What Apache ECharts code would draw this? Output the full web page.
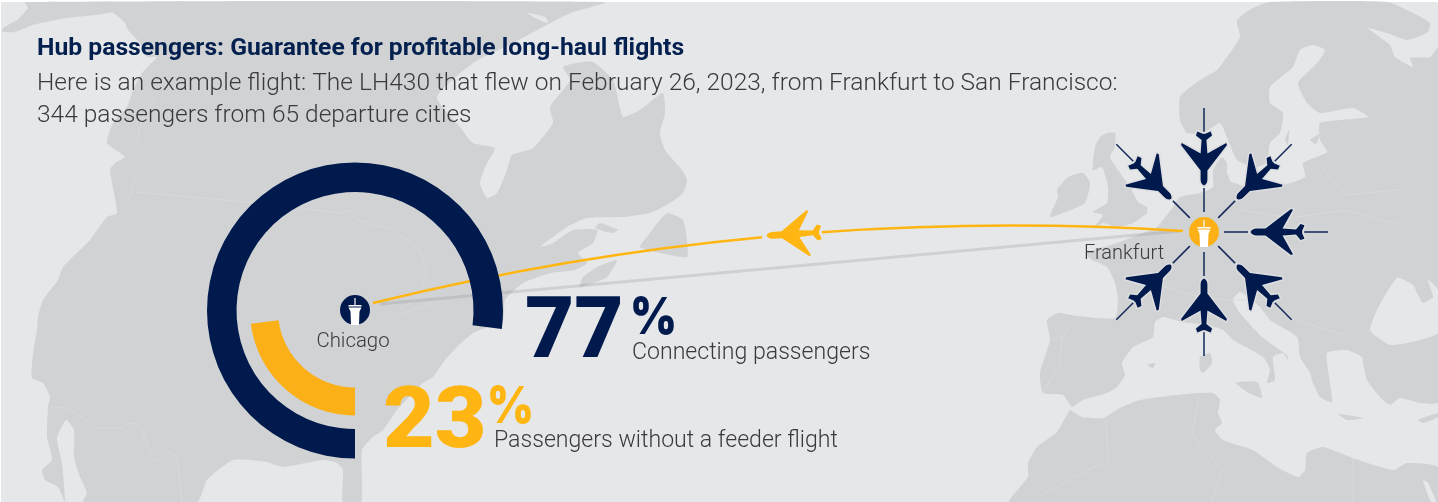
<!DOCTYPE html>
<html>
<head>
<meta charset="utf-8">
<style>
  html, body { margin: 0; padding: 0; background: #ffffff; }
  #chart { width: 1438px; height: 502px; }
</style>
<script src="https://cdn.jsdelivr.net/npm/echarts@6/dist/echarts.min.js"></script>
</head>
<body>
<div id="chart"></div>
<script>
// Passenger split on flight LH430
const connectingShare = 77;
const noFeederShare = 23;

const headline = 'Hub passengers: Guarantee for profitable long-haul flights';
const introLines = [
  'Here is an example flight: The LH430 that flew on February 26, 2023, from Frankfurt to San Francisco:',
  '344 passengers from 65 departure cities'
];
const shareLabels = ['Connecting passengers', 'Passengers without a feeder flight'];

// Airports, in canvas pixels (the hidden axes run 1:1 with the canvas)
const chicago = [355, 310];
const frankfurt = [1204, 232];
const routeStart = [373, 303];
const routeEnd = [1183, 231];
const groundTrackStart = [380, 304];
const groundTrackEnd = [1180, 231];
const enRoutePlane = [794, 234];

// Feeder flights converge on the hub from these bearings (degrees clockwise from north)
const feederBearings = [0, 45, 90, 135, 180, 225, 315];

// Plane silhouette, nose up; airport tower, mast up
const PLANE = 'path://M23 0C20.8 1 19.6 3 19.6 6L19.6 15L0 40.5L0.8 42.5L19.6 32L20.6 45.5L15 50L16.3 54L22.3 51.5L23 52L23.7 51.5L29.7 54L31 50L25.4 45.5L26.4 32L45.2 42.5L46 40.5L26.4 15L26.4 6C26.4 3 25.2 1 23 0Z';
const TOWER = 'path://M5.9 0L7.1 0L7.1 7L13 7L13 8.5L0 8.5L0 7L5.9 7ZM0 9.5L13 9.5L11 13.5L10.5 27L2.5 27L2 13.5Z';

// Simplified coastlines behind the chart
const landAmericas = [[25,2],[605,2],[573,12],[560,18],[513,43],[473,63],[437,97],[460,127],[473,143],[495,148],[487,163],[480,183],[487,198],[497,193],[507,170],[512,155],[533,148],[553,123],[550,107],[570,80],[563,67],[577,63],[593,62],[613,80],[620,108],[623,117],[640,110],[663,93],[665,113],[660,133],[665,150],[682,170],[687,180],[683,193],[670,203],[650,213],[623,217],[587,218],[567,227],[540,247],[553,243],[573,230],[597,230],[593,243],[578,253],[587,263],[575,270],[551,273],[523,283],[505,300],[503,320],[480,330],[473,333],[457,347],[445,360],[433,377],[423,383],[397,410],[383,430],[373,437],[362,450],[361,502],[343,502],[343,470],[337,463],[323,460],[283,467],[267,462],[233,460],[207,480],[197,502],[83,502],[87,493],[80,477],[74,457],[74,430],[66,420],[57,438],[62,463],[65,502],[58,487],[45,480],[42,470],[52,460],[47,437],[48,407],[50,397],[43,383],[32,378],[33,353],[37,330],[38,317],[43,300],[58,280],[63,267],[80,250],[90,240],[107,217],[117,213],[110,170],[115,163],[125,157],[107,143],[113,123],[127,107],[133,90],[143,72],[157,57],[147,57],[140,43],[128,30],[125,23],[113,13],[97,15],[67,18],[33,25],[15,32],[2,32],[3,28],[17,20],[28,8]];
const landEurasia = [[1270,2],[1387,2],[1413,13],[1430,23],[1428,32],[1407,40],[1387,33],[1368,28],[1390,45],[1395,57],[1413,67],[1410,58],[1430,57],[1438,48],[1438,402],[1420,403],[1400,398],[1390,405],[1380,397],[1367,380],[1363,363],[1362,357],[1347,350],[1327,353],[1330,383],[1332,402],[1320,397],[1313,383],[1310,373],[1300,357],[1297,337],[1270,320],[1260,307],[1240,292],[1233,300],[1240,313],[1263,338],[1287,355],[1288,360],[1283,353],[1273,357],[1275,380],[1267,383],[1270,370],[1263,357],[1233,340],[1223,330],[1207,325],[1182,322],[1163,317],[1155,322],[1153,337],[1133,347],[1122,363],[1125,375],[1117,387],[1107,393],[1083,400],[1072,407],[1063,395],[1043,393],[1040,373],[1050,340],[1047,320],[1058,313],[1077,316],[1115,318],[1118,300],[1115,283],[1107,267],[1092,260],[1086,253],[1117,243],[1143,233],[1157,227],[1173,207],[1180,197],[1200,193],[1213,187],[1213,170],[1222,157],[1227,163],[1228,180],[1253,188],[1283,185],[1305,177],[1303,163],[1327,152],[1320,140],[1320,123],[1340,120],[1368,117],[1353,108],[1320,113],[1307,103],[1298,83],[1317,63],[1325,50],[1313,45],[1300,50],[1293,67],[1270,87],[1270,103],[1283,113],[1280,133],[1270,143],[1267,163],[1253,167],[1237,160],[1228,140],[1220,123],[1203,133],[1187,133],[1180,120],[1180,97],[1197,82],[1217,70],[1227,57],[1240,37],[1237,20],[1253,8]];
const landAfrica = [[1010,502],[1028,477],[1028,463],[1037,447],[1057,432],[1070,410],[1075,413],[1082,417],[1103,418],[1120,408],[1140,400],[1177,395],[1213,393],[1220,400],[1218,413],[1222,423],[1215,430],[1223,440],[1253,450],[1263,457],[1277,467],[1298,477],[1305,470],[1307,453],[1323,447],[1353,458],[1393,470],[1407,463],[1438,467],[1438,502]];
const islands = [
  [[1107,133],[1115,133],[1115,147],[1110,157],[1118,170],[1130,187],[1138,202],[1147,207],[1147,213],[1133,223],[1117,227],[1103,223],[1092,230],[1103,215],[1093,212],[1107,203],[1108,187],[1102,167],[1093,170],[1095,147],[1100,137]],
  [[1068,177],[1083,173],[1090,183],[1085,203],[1063,213],[1050,217],[1058,197],[1057,190]],
  [[1200,357],[1210,353],[1212,363],[1203,373],[1200,370]],
  [[1236,383],[1257,382],[1262,398],[1247,392]],
  [[1338,414],[1363,418],[1347,420]],
  [[1418,420],[1438,413],[1438,417],[1423,423]],
  [[1147,365],[1155,363],[1153,368]],
  [[668,213],[683,220],[687,240],[687,257],[660,253],[640,247],[650,233],[660,220]],
  [[617,260],[607,277],[593,283],[580,287],[583,277],[597,267]],
  [[600,223],[618,230],[612,233],[595,228]],
  [[1248,170],[1255,158],[1258,173]],
  [[1217,175],[1226,172],[1230,182],[1220,183]],
  [[1310,140],[1320,134],[1316,144]],
  [[1285,140],[1289,130],[1288,145]]
];
const waters = [
  [[1370,330],[1377,310],[1397,278],[1413,285],[1417,293],[1423,303],[1433,297],[1428,280],[1438,290],[1438,333],[1407,343],[1390,345],[1377,337]],
  [[1423,480],[1428,483],[1436,502],[1431,502]],
  [[528,13],[545,17],[548,23],[535,18]]
];
const borderLines = [
  [[137,192],[190,197],[260,203],[340,213],[350,210],[357,220],[393,230],[420,250],[427,270],[420,297],[403,307],[403,313],[433,303]],
  [[50,407],[68,408],[97,428],[123,428],[128,423],[140,425],[148,447],[157,462],[167,452],[177,457],[182,502]],
  [[135,175],[133,187],[128,200]],
  [[155,100],[143,118],[136,140],[125,150]],
  [[1050,340],[1065,335],[1070,325]],
  [[1043,393],[1060,365],[1062,336]],
  [[1158,285],[1200,297],[1228,300],[1262,300],[1300,322],[1345,335]],
  [[1240,210],[1290,218],[1345,210],[1400,225]],
  [[1320,165],[1345,195],[1400,190]],
  [[1106,418],[1108,460],[1070,480],[1040,495]],
  [[1199,395],[1192,435],[1222,470],[1212,502]],
  [[1353,458],[1353,502]]
];

const NAVY = '#001a4d';
const RING_GOLD = '#fbb017';
const TEXT_GOLD = '#ffb612';
const SEA = '#e6e7e9';
const LAND = '#d1d2d4';
const INK = '#3a3a3c';
const UI_FONT = 'Roboto, sans-serif';

// Spoke segments either side of each feeder plane
function spokes(inner, outer) {
  return feederBearings.map(function (deg) {
    const a = deg * Math.PI / 180;
    const point = function (r) { return [frankfurt[0] + r * Math.sin(a), frankfurt[1] - r * Math.cos(a)]; };
    return { coords: [point(inner), point(outer)] };
  });
}
function feederPlanes() {
  return feederBearings.map(function (deg) {
    const a = deg * Math.PI / 180;
    return {
      value: [frankfurt[0] + 73.5 * Math.sin(a), frankfurt[1] - 73.5 * Math.cos(a)],
      symbolRotate: -(deg + 180)
    };
  });
}
function polygons(rings, color, z) {
  return rings.map(function (points) {
    return { type: 'polygon', silent: true, z: z, shape: { points: points, smooth: 0.18 }, style: { fill: color } };
  });
}
// Text placed by its baseline; the offset converts from the top of the line box
function label(text, x, baseline, size, weight, color, opts) {
  opts = opts || {};
  const sy = opts.scaleY || 1;
  return {
    type: 'text', silent: true, z: 20, x: x, y: baseline - 0.76 * size * sy,
    scaleX: opts.scaleX || 1, scaleY: sy,
    style: { text: text, fill: color, textAlign: opts.align || 'left', textVerticalAlign: 'top',
             font: weight + ' ' + size + 'px ' + (opts.family || UI_FONT) }
  };
}
const percentSign = { family: 'Inter, sans-serif', scaleY: 1.14 };

const graphicElements = [
  { type: 'rect', silent: true, z: 0, shape: { x: 1, y: 2, width: 1437, height: 500 }, style: { fill: SEA } }
]
  .concat(polygons([landAmericas, landEurasia, landAfrica].concat(islands), LAND, 1))
  .concat(polygons(waters, SEA, 2))
  .concat(borderLines.map(function (points) {
    return { type: 'polyline', silent: true, z: 3, shape: { points: points }, style: { stroke: '#dadbdd', lineWidth: 0.8, fill: null } };
  }))
  .concat([
    label(headline, 37, 55, 24.7, 700, '#04204f'),
    label(introLines[0], 37, 90, 24.5, 300, INK),
    label(introLines[1], 37, 122, 24.5, 300, INK),
    label(String(connectingShare), 525, 358, 85, 900, NAVY),
    label('%', 630, 332, 45, 900, NAVY, percentSign),
    label(shareLabels[0], 632, 359, 23.1, 300, INK),
    label(String(noFeederShare), 383, 448, 85, 900, TEXT_GOLD, { scaleX: 1.05 }),
    label('%', 487, 421, 45, 900, TEXT_GOLD, percentSign),
    label(shareLabels[1], 494, 447, 23.1, 300, INK),
    label('Chicago', 353, 347, 20.4, 300, INK, { align: 'center' }),
    label('Frankfurt', 1084, 259, 20, 300, INK)
  ]);

function ring(radius, color, values) {
  return {
    type: 'pie', z: 6, silent: true, center: [355, 310.5], radius: radius,
    startAngle: 270, clockwise: true, label: { show: false }, labelLine: { show: false },
    data: values.map(function (v, i) {
      return { value: v, itemStyle: { color: i === 0 ? color : 'rgba(0,0,0,0)' } };
    })
  };
}

const option = {
  animation: false,
  grid: { left: 0, right: 0, top: 0, bottom: 0 },
  xAxis: { type: 'value', min: 0, max: 1438, show: false },
  yAxis: { type: 'value', min: 0, max: 502, inverse: true, show: false },
  graphic: { elements: graphicElements },
  series: [
    {
      type: 'lines', coordinateSystem: 'cartesian2d', z: 4, silent: true,
      lineStyle: { color: 'rgba(120,122,128,0.2)', width: 3, curveness: 0, opacity: 1 },
      data: [{ coords: [groundTrackStart, groundTrackEnd] }]
    },
    {
      type: 'lines', coordinateSystem: 'cartesian2d', z: 5, silent: true,
      lineStyle: { color: TEXT_GOLD, width: 2.6, curveness: 0.0765, opacity: 1, type: [395, 60, 600] },
      data: [{ coords: [routeStart, routeEnd] }]
    },
    ring([118.5, 148], NAVY, [connectingShare, noFeederShare]),
    ring([77, 105], RING_GOLD, [noFeederShare, connectingShare]),
    {
      type: 'lines', coordinateSystem: 'cartesian2d', z: 7, silent: true,
      lineStyle: { color: '#12295a', width: 1.5, curveness: 0, opacity: 1 },
      data: spokes(20, 44).concat(spokes(100, 124))
    },
    {
      type: 'scatter', z: 8, silent: true, symbol: PLANE, symbolSize: [46, 54],
      itemStyle: { color: NAVY, borderColor: '#dddee0', borderWidth: 3, opacity: 1 },
      data: feederPlanes()
    },
    {
      type: 'scatter', z: 9, silent: true, symbol: PLANE, symbolSize: [46, 54],
      itemStyle: { color: NAVY, opacity: 1 },
      data: feederPlanes()
    },
    {
      type: 'scatter', z: 9, silent: true, symbol: PLANE, symbolSize: [46, 55],
      itemStyle: { color: TEXT_GOLD, opacity: 1 },
      data: [{ value: enRoutePlane, symbolRotate: 93.5 }]
    },
    {
      type: 'scatter', z: 10, silent: true, symbol: 'circle', symbolSize: 30,
      itemStyle: { opacity: 1 },
      data: [
        { value: chicago, itemStyle: { color: NAVY } },
        { value: frankfurt, itemStyle: { color: RING_GOLD } }
      ]
    },
    {
      type: 'scatter', z: 11, silent: true, symbol: TOWER, symbolSize: [13, 27], symbolOffset: [0, 1.5],
      itemStyle: { color: '#ffffff', opacity: 1 },
      data: [chicago, frankfurt]
    }
  ]
};

const chart = echarts.init(document.getElementById('chart'), null, { renderer: 'canvas' });
chart.setOption(option);
</script>
</body>
</html>
